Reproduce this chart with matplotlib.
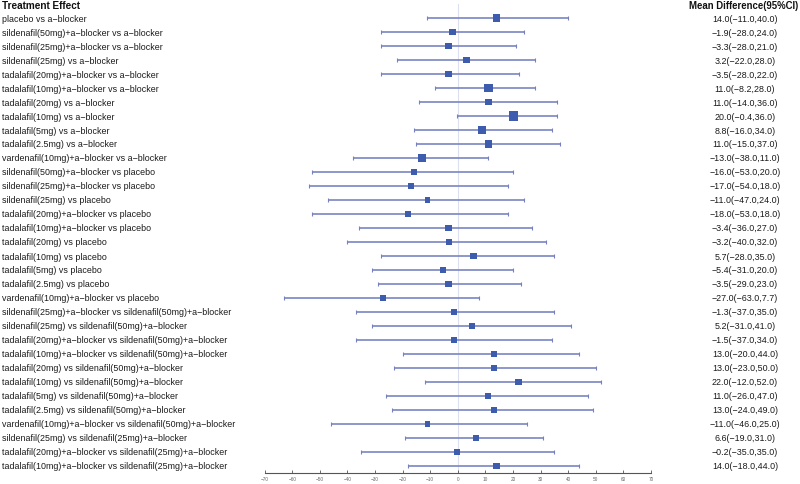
import numpy as np
import matplotlib.pyplot as plt
import matplotlib.transforms as mtransforms

# ---------------------------------------------------------------------------
# Data
# ---------------------------------------------------------------------------
comparisons = [
    "placebo vs a-blocker",
    "sildenafil(50mg)+a-blocker vs a-blocker",
    "sildenafil(25mg)+a-blocker vs a-blocker",
    "sildenafil(25mg) vs a-blocker",
    "tadalafil(20mg)+a-blocker vs a-blocker",
    "tadalafil(10mg)+a-blocker vs a-blocker",
    "tadalafil(20mg) vs a-blocker",
    "tadalafil(10mg) vs a-blocker",
    "tadalafil(5mg) vs a-blocker",
    "tadalafil(2.5mg) vs a-blocker",
    "vardenafil(10mg)+a-blocker vs a-blocker",
    "sildenafil(50mg)+a-blocker vs placebo",
    "sildenafil(25mg)+a-blocker vs placebo",
    "sildenafil(25mg) vs placebo",
    "tadalafil(20mg)+a-blocker vs placebo",
    "tadalafil(10mg)+a-blocker vs placebo",
    "tadalafil(20mg) vs placebo",
    "tadalafil(10mg) vs placebo",
    "tadalafil(5mg) vs placebo",
    "tadalafil(2.5mg) vs placebo",
    "vardenafil(10mg)+a-blocker vs placebo",
    "sildenafil(25mg)+a-blocker vs sildenafil(50mg)+a-blocker",
    "sildenafil(25mg) vs sildenafil(50mg)+a-blocker",
    "tadalafil(20mg)+a-blocker vs sildenafil(50mg)+a-blocker",
    "tadalafil(10mg)+a-blocker vs sildenafil(50mg)+a-blocker",
    "tadalafil(20mg) vs sildenafil(50mg)+a-blocker",
    "tadalafil(10mg) vs sildenafil(50mg)+a-blocker",
    "tadalafil(5mg) vs sildenafil(50mg)+a-blocker",
    "tadalafil(2.5mg) vs sildenafil(50mg)+a-blocker",
    "vardenafil(10mg)+a-blocker vs sildenafil(50mg)+a-blocker",
    "sildenafil(25mg) vs sildenafil(25mg)+a-blocker",
    "tadalafil(20mg)+a-blocker vs sildenafil(25mg)+a-blocker",
    "tadalafil(10mg)+a-blocker vs sildenafil(25mg)+a-blocker",
]

mean_diff = [14.0, -1.9, -3.3, 3.2, -3.5, 11.0, 11.0, 20.0, 8.8, 11.0, -13.0,
             -16.0, -17.0, -11.0, -18.0, -3.4, -3.2, 5.7, -5.4, -3.5, -27.0,
             -1.3, 5.2, -1.5, 13.0, 13.0, 22.0, 11.0, 13.0, -11.0, 6.6, -0.2, 14.0]
ci_low = [-11.0, -28.0, -28.0, -22.0, -28.0, -8.2, -14.0, -0.4, -16.0, -15.0, -38.0,
          -53.0, -54.0, -47.0, -53.0, -36.0, -40.0, -28.0, -31.0, -29.0, -63.0,
          -37.0, -31.0, -37.0, -20.0, -23.0, -12.0, -26.0, -24.0, -46.0, -19.0, -35.0, -18.0]
ci_high = [40.0, 24.0, 21.0, 28.0, 22.0, 28.0, 36.0, 36.0, 34.0, 37.0, 11.0,
           20.0, 18.0, 24.0, 18.0, 27.0, 32.0, 35.0, 20.0, 23.0, 7.7,
           35.0, 41.0, 34.0, 44.0, 50.0, 52.0, 47.0, 49.0, 25.0, 31.0, 35.0, 44.0]

weights = [7, 6, 6.5, 6.5, 6.5, 8.3, 6.5, 8.7, 7, 7, 7,
           5.5, 5.5, 5.5, 5.5, 6, 5.5, 6, 6.5, 6.5, 6,
           5.5, 5.5, 5.5, 6, 5.5, 6, 5.5, 5.5, 5.5, 6.5, 5.5, 6]

x_ticks = list(range(-70, 71, 10))

# ---------------------------------------------------------------------------
# Plot
# ---------------------------------------------------------------------------
plt.rcParams["font.family"] = ["Liberation Sans", "DejaVu Sans"]

W, H = 800, 485
fig = plt.figure(figsize=(W / 100, H / 100), dpi=100)

# axes placed so -70..70 spans the same pixels as the reference
x0, x1 = 264.7, 651.0
y_top, y_axis = 5.0, 474.3
ax = fig.add_axes([x0 / W, 1 - y_axis / H, (x1 - x0) / W, (y_axis - y_top) / H])

n = len(comparisons)
rows = np.arange(1, n + 1)
row_px0, row_step = 19.0, 14.0
ax.set_ylim(1 + (y_axis - row_px0) / row_step, 1 + (y_top - row_px0) / row_step)
ax.set_xlim(-70, 70)

ax.axvline(0, color="#dcdfee", linewidth=0.8, zorder=0)

lo = np.array(mean_diff) - np.array(ci_low)
hi = np.array(ci_high) - np.array(mean_diff)
ax.errorbar(mean_diff, rows, xerr=[lo, hi], fmt="none", ecolor="#7480c0",
            elinewidth=1.15, capsize=1.6, capthick=0.8, zorder=2)
sizes = (np.array(weights) * 0.75) ** 2
ax.scatter(mean_diff, rows, marker="s", s=sizes, color="#3d5cad",
           edgecolors="none", zorder=3)

for side in ["top", "right", "left"]:
    ax.spines[side].set_visible(False)
ax.spines["bottom"].set_color("#555555")
ax.spines["bottom"].set_linewidth(0.8)
ax.set_yticks([])
ax.set_xticks(x_ticks)
ax.set_xticklabels([str(t).replace("-", "\u2212") for t in x_ticks])
ax.tick_params(axis="x", direction="in", length=2.5, width=0.6, color="#555555",
               labelsize=3.4, labelcolor="#666666", pad=2)

# text columns
trans = mtransforms.blended_transform_factory(fig.transFigure, ax.transData)
for r, label, m, l, h in zip(rows, comparisons, mean_diff, ci_low, ci_high):
    ax.text(2 / W, r, label.replace("-", "\u2212"), transform=trans,
            ha="left", va="center", fontsize=6.4, color="#1a1a1a")
    val = f"{m:.1f}({l:.1f},{h:.1f})".replace("-", "\u2212")
    ax.text(745 / W, r, val, transform=trans, ha="center", va="center",
            fontsize=6.4, color="#1a1a1a")

head_y = 1 + (6 - row_px0) / row_step
ax.text(2 / W, head_y, "Treatment Effect", transform=trans, ha="left",
        va="center", fontsize=7.2, fontweight="bold", color="#111111")
ax.text(744 / W, head_y, "Mean Difference(95%CI)", transform=trans,
        ha="center", va="center", fontsize=6.95, fontweight="bold", color="#111111")

fig.savefig("out.png", dpi=100)
